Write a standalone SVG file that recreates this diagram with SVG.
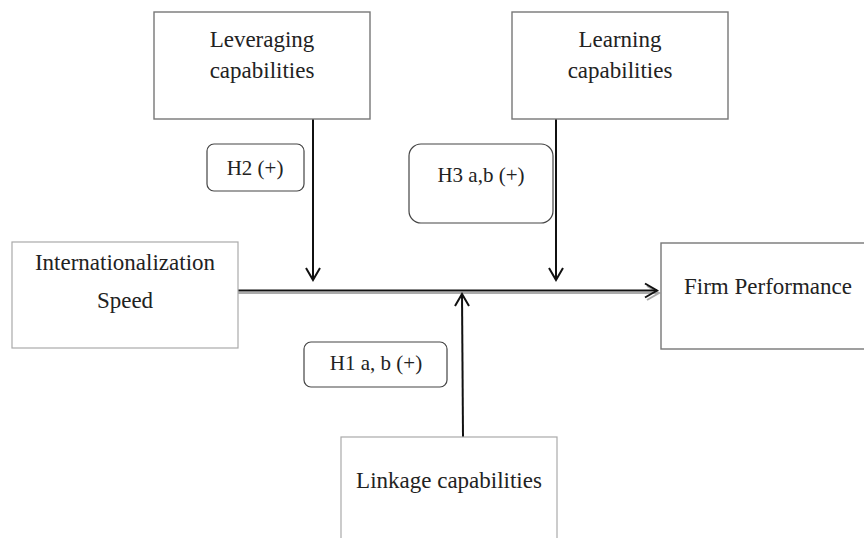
<svg xmlns="http://www.w3.org/2000/svg" width="864" height="538" viewBox="0 0 864 538">
<style>
.box{fill:#fff;stroke:#777;stroke-width:1.4}
.lbox{fill:#fff;stroke:#aaa;stroke-width:1.2}
.hyp{fill:#fff;stroke:#444;stroke-width:1.2}
text{font-family:"Liberation Serif","Times New Roman",serif;fill:#222;text-anchor:middle}
.t{font-size:23px}
.h{font-size:21px}
.ln{stroke:#111;stroke-width:2;fill:none}
.sh{stroke:#aaa;stroke-width:2;fill:none}
</style>
<rect width="864" height="538" fill="#fff"/>
<g id="connectors">
  <line class="ln" x1="313" y1="119" x2="313" y2="280"/>
  <polyline class="ln" points="306,268 313,280 320,268"/>
  <line class="ln" x1="556" y1="119" x2="556" y2="280"/>
  <polyline class="ln" points="549,268 556,280 563,268"/>
  <line class="sh" x1="238" y1="293" x2="658" y2="293"/>
  <polyline class="sh" points="647,286 659,293 647,300"/>
  <line class="ln" x1="238" y1="290.5" x2="657" y2="290.5"/>
  <polyline class="ln" points="645,283.5 657,290.5 645,297.5"/>
  <line class="ln" x1="463" y1="437" x2="462" y2="294"/>
  <polyline class="ln" points="455,306 462,294 469,306"/>
</g>
<g id="leveraging">
  <rect class="box" x="154" y="12" width="216" height="107"/>
  <text class="t" x="262" y="47">Leveraging</text>
  <text class="t" x="262" y="78">capabilities</text>
</g>
<g id="learning">
  <rect class="box" x="512" y="12" width="216" height="107"/>
  <text class="t" x="620" y="47">Learning</text>
  <text class="t" x="620" y="78">capabilities</text>
</g>
<g id="h2">
  <rect class="hyp" x="207" y="144" width="97" height="47" rx="7"/>
  <text class="h" x="255" y="175">H2 (+)</text>
</g>
<g id="h3">
  <rect class="hyp" x="409" y="144" width="144" height="79" rx="12"/>
  <text class="h" x="481" y="182">H3 a,b (+)</text>
</g>
<g id="internationalization">
  <rect class="lbox" x="12" y="242" width="226" height="106"/>
  <text class="t" x="125" y="270">Internationalization</text>
  <text class="t" x="125" y="308">Speed</text>
</g>
<g id="firm">
  <rect class="box" x="661" y="243" width="210" height="106"/>
  <text class="t" x="768" y="294">Firm Performance</text>
</g>
<g id="h1">
  <rect class="hyp" x="304" y="342" width="143" height="45" rx="7"/>
  <text class="h" x="376" y="370">H1 a, b (+)</text>
</g>
<g id="linkage">
  <rect class="lbox" x="341" y="437" width="216" height="110"/>
  <text class="t" x="449" y="488">Linkage capabilities</text>
</g>
</svg>
